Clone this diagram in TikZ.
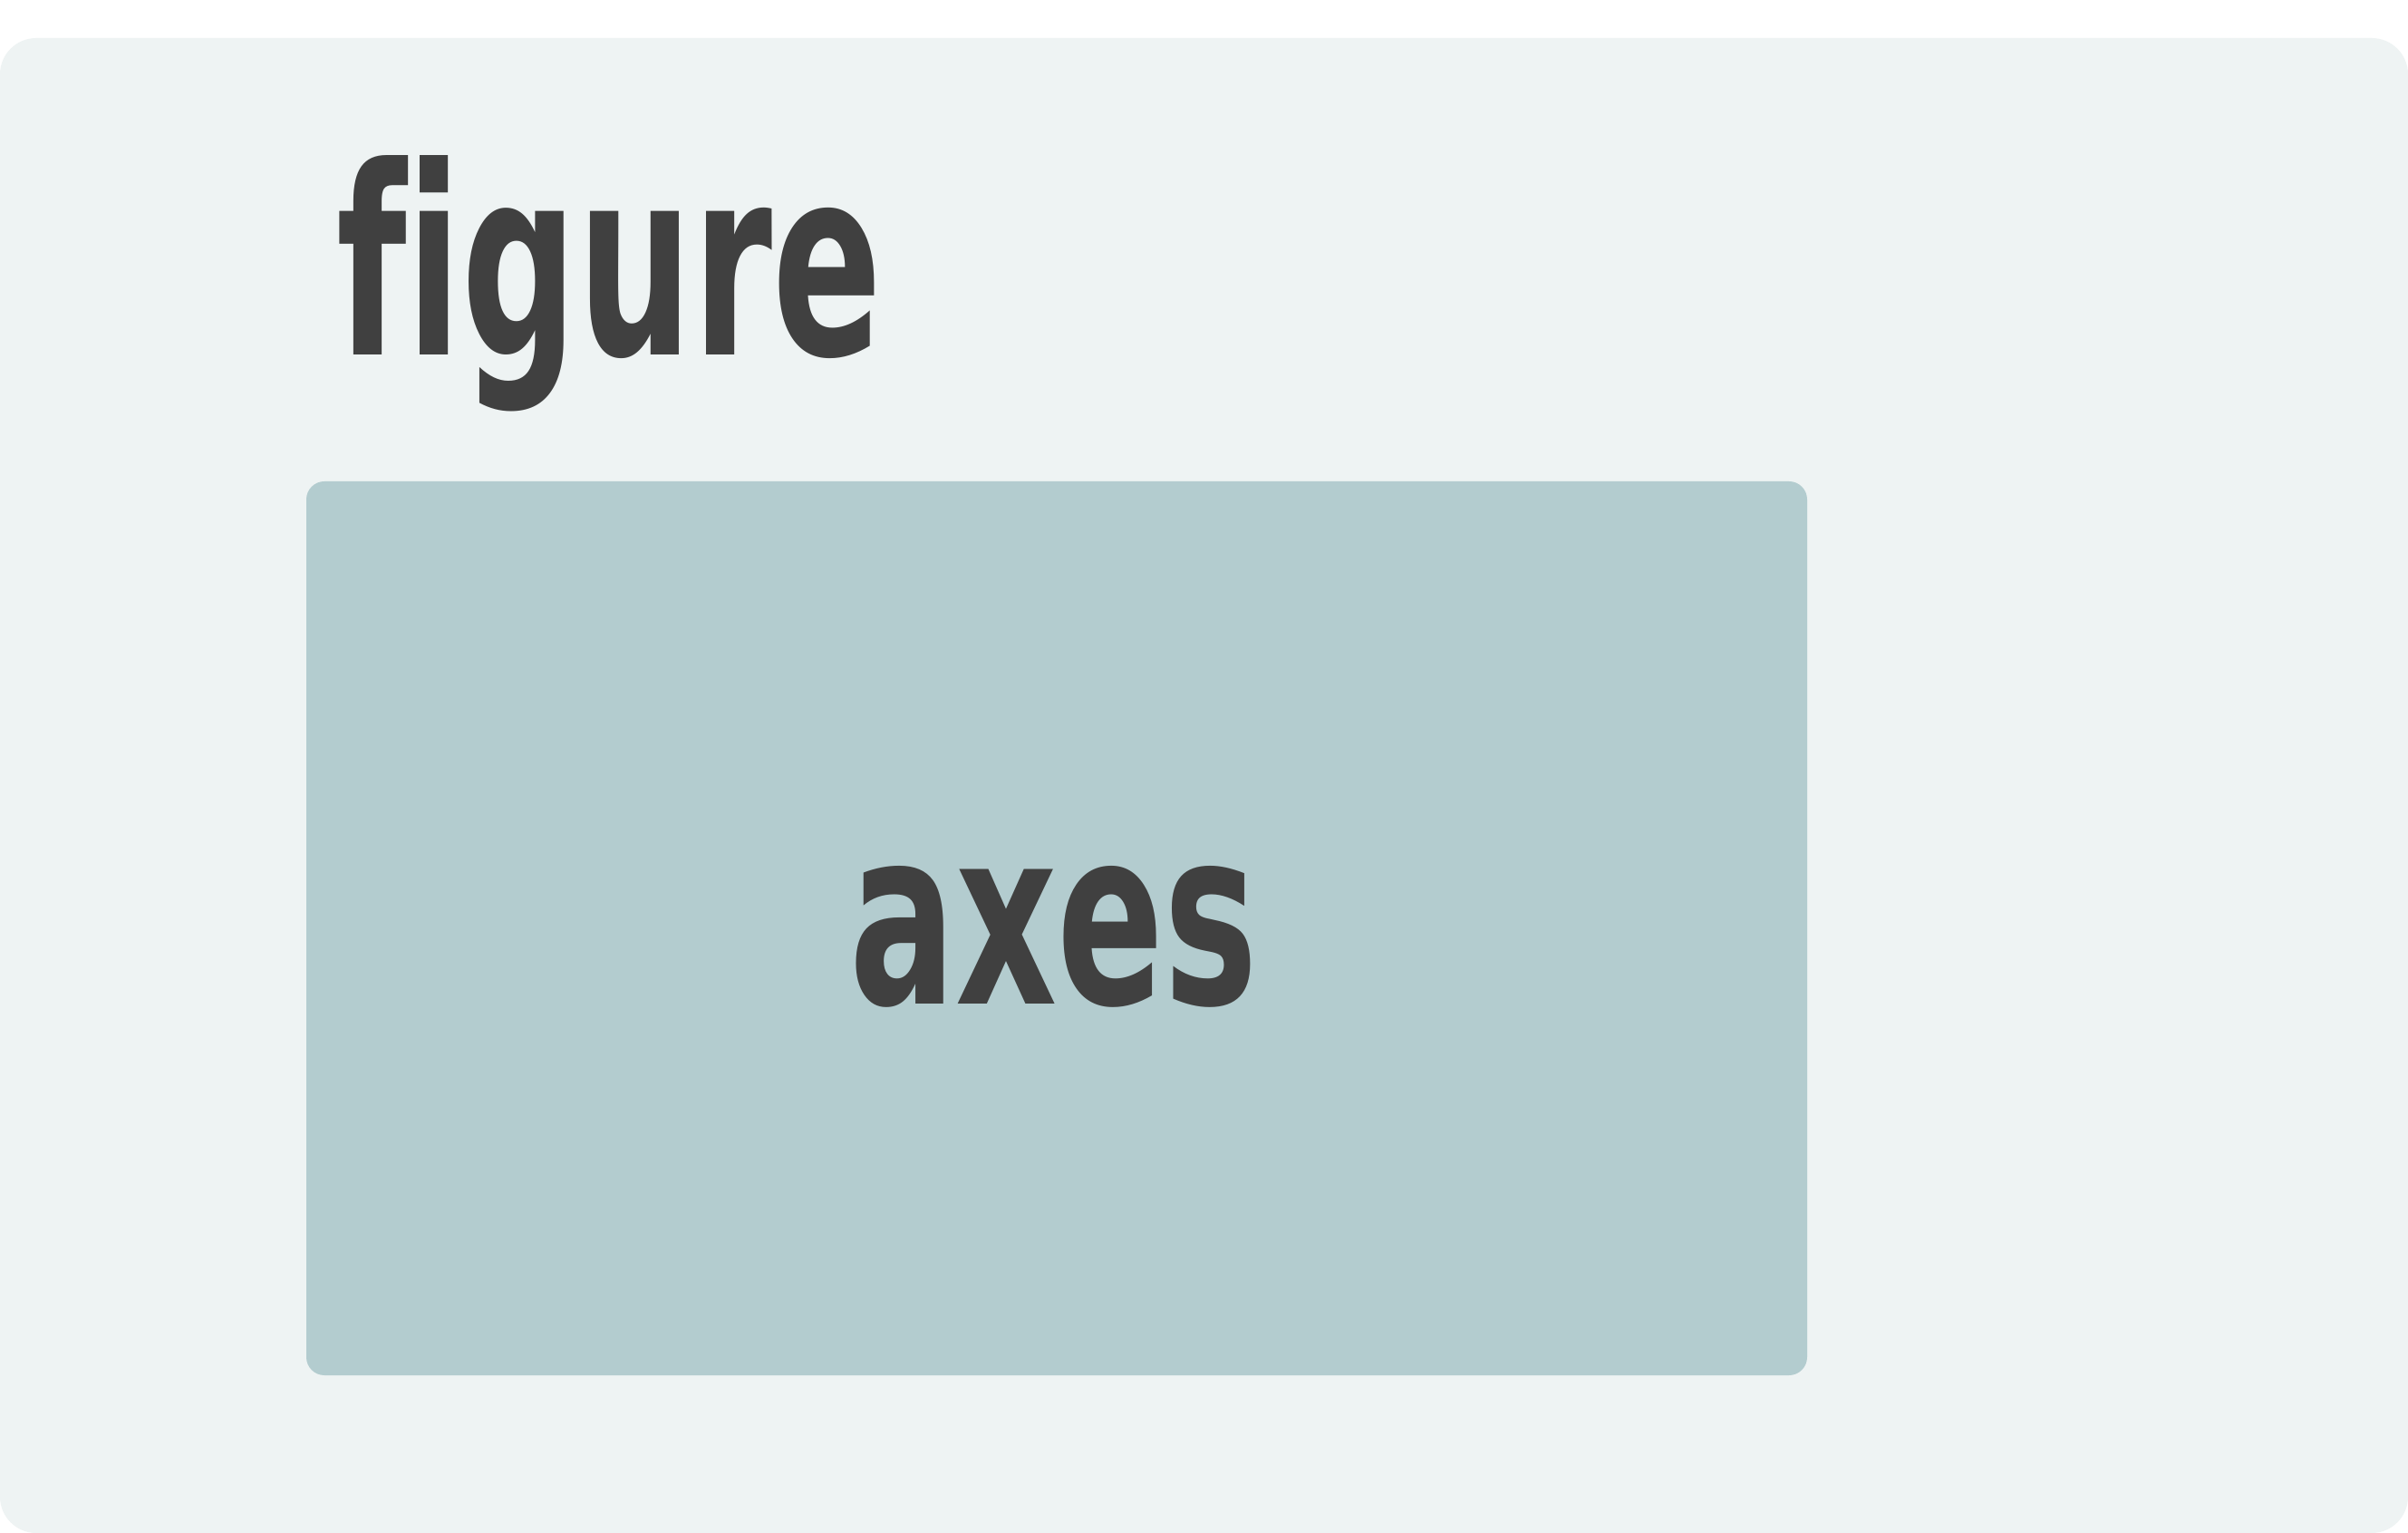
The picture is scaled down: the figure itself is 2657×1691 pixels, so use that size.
\documentclass[tikz,border=0pt]{standalone}
\usepackage{fontspec}
\usepackage{graphicx}
\newfontfamily\labelfont{DejaVu Sans Condensed}[Ligatures=NoCommon]
\definecolor{figbg}{RGB}{238,243,243}
\definecolor{axbg}{RGB}{179,204,207}
\definecolor{txt}{RGB}{64,64,64}
\tikzset{
  panel/.style={inner sep=0pt, outer sep=0pt, draw=none, anchor=north west, rectangle},
  lbl/.style={inner sep=0pt, outer sep=0pt, text=txt, font=\labelfont\bfseries}
}
\begin{document}
\begin{tikzpicture}[x=0.1mm,y=-0.1mm]
\useasboundingbox (0,0) rectangle (2657,1691);
\node[panel, fill=figbg, rounded corners=4mm, minimum width=265.7mm, minimum height=164.9mm] (figbox) at (0,42) {};
\node[panel, fill=axbg, rounded corners=2mm, minimum width=165.6mm, minimum height=98.6mm] (axbox) at (338,531) {};
\node[lbl, anchor=base west] (figlabel) at (371,392) {\resizebox{60.2mm}{22mm}{figure}};
\node[lbl, anchor=base west] (axlabel) at (937,1107) {\resizebox{45.1mm}{15.2mm}{axes}};
\end{tikzpicture}
\end{document}
